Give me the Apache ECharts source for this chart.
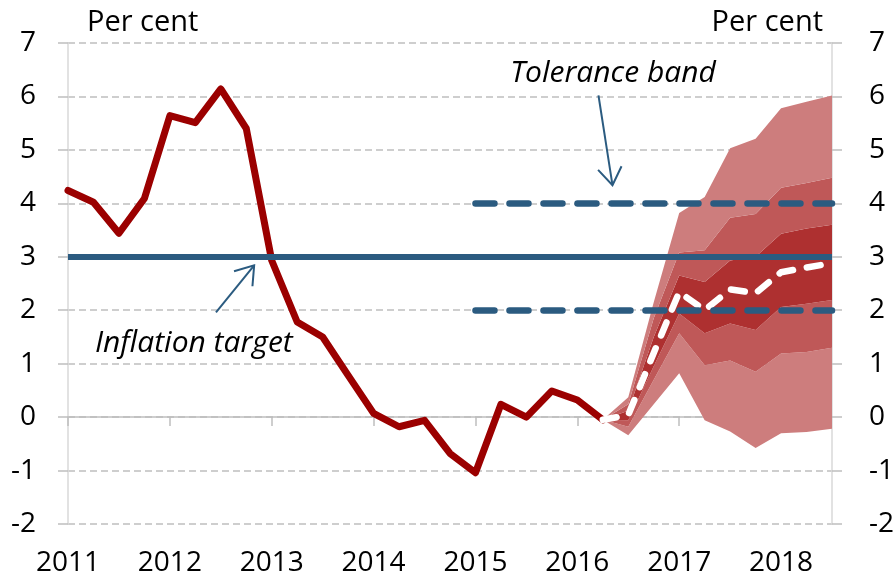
<!DOCTYPE html>
<html>
<head>
<meta charset="utf-8">
<script src="https://cdn.jsdelivr.net/npm/echarts@6.0.0/dist/echarts.min.js"></script>
<style>
  html, body { margin: 0; padding: 0; background: #fff; }
  #chart { width: 895px; height: 579px; }
</style>
</head>
<body>
<div id="chart"></div>
<script>
// quarterly categories, 2011Q1 - 2018Q3
var quarters = ['2011Q1','2011Q2','2011Q3','2011Q4','2012Q1','2012Q2','2012Q3','2012Q4',
  '2013Q1','2013Q2','2013Q3','2013Q4','2014Q1','2014Q2','2014Q3','2014Q4',
  '2015Q1','2015Q2','2015Q3','2015Q4','2016Q1','2016Q2','2016Q3','2016Q4',
  '2017Q1','2017Q2','2017Q3','2017Q4','2018Q1','2018Q2','2018Q3'];

// inflation, actual (2011Q1 - 2016Q2)
var actual = [4.24, 4.02, 3.44, 4.09, 5.64, 5.51, 6.14, 5.40, 2.93, 1.78, 1.50, 0.78,
  0.07, -0.18, -0.06, -0.68, -1.04, 0.24, 0.00, 0.49, 0.32, -0.05];

// forecast fan (2016Q2 - 2018Q3)
var fanStart = '2016Q2';
var median  = [-0.05, 0.04, 1.20, 2.34, 2.00, 2.39, 2.32, 2.71, 2.80, 2.88];
var innerLo = [-0.05, -0.06, 0.95, 1.94, 1.57, 1.75, 1.63, 2.06, 2.12, 2.19];
var innerHi = [-0.05, 0.12, 1.50, 2.65, 2.53, 2.93, 3.00, 3.43, 3.53, 3.60];
var midLo   = [-0.05, -0.18, 0.70, 1.57, 0.97, 1.06, 0.85, 1.19, 1.22, 1.30];
var midHi   = [-0.05, 0.24, 1.85, 3.08, 3.12, 3.73, 3.80, 4.29, 4.38, 4.48];
var outerLo = [-0.05, -0.34, 0.24, 0.82, -0.06, -0.27, -0.58, -0.30, -0.28, -0.22];
var outerHi = [-0.05, 0.37, 2.15, 3.82, 4.12, 5.03, 5.21, 5.78, 5.90, 6.02];

// target and tolerance band
var inflationTarget = 3;
var toleranceLo = 2, toleranceHi = 4;
var toleranceStart = '2015Q1';

var yTicks = [-2, -1, 0, 1, 2, 3, 4, 5, 6, 7];

var FONT = '"Open Sans", "Noto Sans", sans-serif';
var BLUE = '#2b5b80', RED = '#9b0000', GRID = '#bfbfbf';

var startIdx = quarters.indexOf(fanStart);
function pad(arr) {
  var out = [];
  for (var i = 0; i < startIdx; i++) out.push(null);
  return out.concat(arr);
}
function diff(a, b) {
  return a.map(function (v, i) { return +(v - b[i]).toFixed(3); });
}

var fanLayers = [
  { data: outerLo, color: 'transparent', base: true },
  { data: diff(midLo, outerLo), color: '#cd7d7d' },
  { data: diff(innerLo, midLo), color: '#bf5858' },
  { data: diff(innerHi, innerLo), color: '#ae3030' },
  { data: diff(midHi, innerHi), color: '#bf5858' },
  { data: diff(outerHi, midHi), color: '#cd7d7d' }
];

var series = fanLayers.map(function (l) {
  var s = {
    type: 'line', stack: 'fan', stackStrategy: 'all',
    symbol: 'none', silent: true, smooth: false,
    lineStyle: { width: 0, opacity: 0 },
    data: pad(l.data)
  };
  if (!l.base) s.areaStyle = { color: l.color, opacity: 1 };
  return s;
});

// inflation target and tolerance band
series.push({
  type: 'line', data: [], symbol: 'none', silent: true,
  markLine: {
    silent: true, symbol: 'none', label: { show: false },
    lineStyle: { color: BLUE, width: 6, type: 'solid' },
    data: [{ yAxis: inflationTarget }]
  }
});
series.push({
  type: 'line', data: [], symbol: 'none', silent: true,
  markLine: {
    silent: true, symbol: 'none', label: { show: false },
    lineStyle: { color: BLUE, width: 6.5, type: [19, 15], cap: 'round' },
    data: [
      [{ coord: [toleranceStart, toleranceHi] }, { coord: [quarters[quarters.length - 1], toleranceHi] }],
      [{ coord: [toleranceStart, toleranceLo] }, { coord: [quarters[quarters.length - 1], toleranceLo] }]
    ]
  }
});

series.push({
  type: 'line', data: actual, symbol: 'none', silent: true,
  lineStyle: { color: RED, width: 7, join: 'round', cap: 'round' }
});
series.push({
  type: 'line', data: pad(median), symbol: 'none', silent: true,
  lineStyle: { color: '#fff', width: 6.5, type: [14, 14], cap: 'round', join: 'round' }
});

var axisLabelStyle = { color: '#000', fontSize: 28, fontFamily: FONT };

var myChart = echarts.init(document.getElementById('chart'));
myChart.setOption({
  animation: false,
  grid: { left: 68, right: 63, top: 43, bottom: 55, containLabel: false, outerBoundsMode: 'none' },
  xAxis: [
    {
      type: 'category', data: quarters, boundaryGap: false, position: 'bottom',
      axisLine: { show: false, onZero: false },
      axisTick: { show: false },
      splitLine: { show: false },
      axisLabel: Object.assign({ interval: 3, margin: 25, formatter: function (v) { return v.slice(0, 4); } }, axisLabelStyle)
    },
    {
      type: 'category', data: quarters, boundaryGap: false, position: 'bottom',
      axisLine: { show: true, onZero: true, lineStyle: { color: GRID, width: 1.5 } },
      axisTick: { show: true, interval: 3, length: 9, lineStyle: { color: GRID, width: 1.5 } },
      axisLabel: { show: false },
      splitLine: { show: false }
    }
  ],
  yAxis: [
    {
      type: 'value', position: 'left', min: yTicks[0], max: yTicks[yTicks.length - 1], interval: 1,
      axisLine: { show: true, lineStyle: { color: '#d9d9d9', width: 1.5 } },
      axisTick: { show: true, length: 10, lineStyle: { color: GRID, width: 1.5 } },
      splitLine: { show: true, lineStyle: { color: GRID, width: 1.5, type: [7, 4] } },
      axisLabel: Object.assign({ margin: 32 }, axisLabelStyle)
    },
    {
      type: 'value', position: 'right', min: yTicks[0], max: yTicks[yTicks.length - 1], interval: 1,
      axisLine: { show: true, lineStyle: { color: '#d9d9d9', width: 1.5 } },
      axisTick: { show: true, length: 10, lineStyle: { color: GRID, width: 1.5 } },
      splitLine: { show: false },
      axisLabel: Object.assign({ margin: 37 }, axisLabelStyle)
    }
  ],
  series: series
});

// annotations placed in data units (category index, value)
var notes = {
  tolerance: { text: 'Tolerance band', at: [21.4, 6.43], arrow: [[20.83, 6.02], [21.38, 4.34]] },
  target: { text: 'Inflation target', at: [4.94, 1.38], arrow: [[5.81, 1.96], [7.31, 2.84]] }
};

var x0 = myChart.convertToPixel({ xAxisIndex: 0 }, 0);
var xN = myChart.convertToPixel({ xAxisIndex: 0 }, quarters.length - 1);
function toPx(p) {
  return [x0 + (xN - x0) * p[0] / (quarters.length - 1), myChart.convertToPixel({ yAxisIndex: 0 }, p[1])];
}

var graphics = [
  { type: 'text', left: 87, top: 8, style: { text: 'Per cent', fontSize: 29, fontFamily: FONT, fill: '#000' } },
  { type: 'text', right: 72, top: 8, style: { text: 'Per cent', fontSize: 29, fontFamily: FONT, fill: '#000' } }
];

Object.keys(notes).forEach(function (k) {
  var n = notes[k];
  var c = toPx(n.at);
  graphics.push({
    type: 'text', x: c[0], y: c[1], z: 100,
    style: { text: n.text, fontSize: 30, fontStyle: 'italic', fontFamily: FONT, fill: '#000', align: 'center', verticalAlign: 'middle' }
  });
  var a = toPx(n.arrow[0]), b = toPx(n.arrow[1]);
  var ang = Math.atan2(b[1] - a[1], b[0] - a[0]);
  var len = 21, spread = 0.6;
  var h1 = [b[0] - len * Math.cos(ang - spread), b[1] - len * Math.sin(ang - spread)];
  var h2 = [b[0] - len * Math.cos(ang + spread), b[1] - len * Math.sin(ang + spread)];
  graphics.push({ type: 'line', z: 100, shape: { x1: a[0], y1: a[1], x2: b[0], y2: b[1] }, style: { stroke: BLUE, lineWidth: 2 } });
  graphics.push({ type: 'polyline', z: 100, shape: { points: [h1, b, h2] }, style: { stroke: BLUE, lineWidth: 2, fill: null } });
});

myChart.setOption({ graphic: graphics });
</script>
</body>
</html>
